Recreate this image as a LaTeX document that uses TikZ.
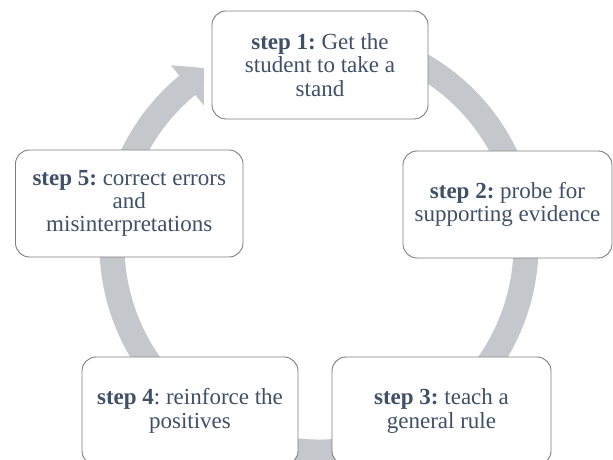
\documentclass[tikz,border=0pt]{standalone}
\usepackage{fontspec}
\setmainfont{Liberation Serif}
\newfontfamily\boxfont{Liberation Serif}
\frenchspacing
\definecolor{ringgray}{RGB}{196,199,204}
\definecolor{boxline}{RGB}{125,125,125}
\definecolor{txt}{RGB}{64,80,102}
\tikzset{
  stepbox/.style={draw=boxline, line width=0.9pt, fill=white, rounded corners=14pt,
    align=center, text=txt, inner sep=0pt,
    font=\boxfont\fontsize{23}{23.3}\selectfont\frenchspacing},
  ring/.style={draw=ringgray, line width=25pt},
}
\begin{document}
\begin{tikzpicture}[x=1pt,y=1pt]
\useasboundingbox (0,0) rectangle (613,460);
\clip (0,0) rectangle (613,460);
\coordinate (c) at (319,215);
% ring with arrowhead
\draw[ring] ([shift={(75:207)}]c) arc[start angle=75, end angle=-230.8, radius=207];
\fill[ringgray] ([shift={(129.5:233)}]c) -- ([shift={(123:211)}]c) -- ([shift={(129.5:181)}]c) -- cycle;
% boxes
\node[stepbox, minimum width=216pt, minimum height=108pt] (s1) at (320,395)
  {\textbf{step 1:} Get the\\student to take a\\stand};
\node[stepbox, minimum width=209pt, minimum height=107pt] (s2) at (507.5,255.5)
  {\textbf{step 2:} probe for\\supporting evidence};
\node[stepbox, minimum width=219pt, minimum height=108pt] (s3) at (441.5,49)
  {\textbf{step 3:} teach a\\general rule};
\node[stepbox, minimum width=216pt, minimum height=108pt] (s4) at (190,49)
  {\textbf{step 4}: reinforce the\\positives};
\node[stepbox, minimum width=227.5pt, minimum height=107pt] (s5) at (129.25,256.5)
  {\textbf{step 5:} correct errors\\and\\misinterpretations};
\end{tikzpicture}
\end{document}
